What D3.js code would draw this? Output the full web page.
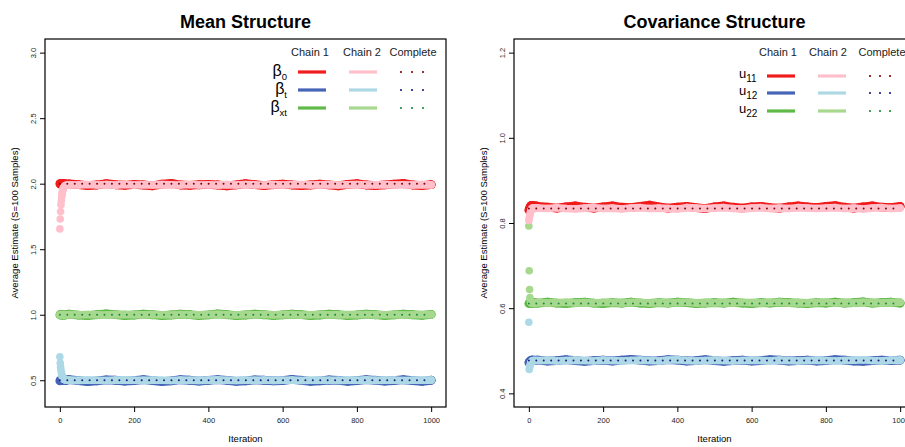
<!DOCTYPE html>
<html>
<head>
    <style>
        body { margin: 0; background: #fff; }
        text { font-family: "Liberation Sans", Arial, sans-serif; fill: #000; }
        .title { font-weight: bold; font-size: 18px; }
        .tick text { font-size: 7.5px; fill: #222; }
        .axis-label { font-size: 9.5px; }
        .legend-head { font-size: 11px; fill: #222; }
    </style>
    <script src="https://d3js.org/d3.v7.min.js"></script>
</head>
<body>
    <svg width="905" height="447"></svg>
    <script>
        // iterations that were plotted
        let iterBurn = [0, 1, 2, 3, 4, 5, 6, 7, 8, 9, 10, 12, 14, 17, 20];
        let iterMain = d3.range(25, 1001, 25);
        let xTicks = [0, 200, 400, 600, 800, 1000];

        // ---- Mean structure ----
        let meanTicks = [0.5, 1.0, 1.5, 2.0, 2.5, 3.0];
        let meanLabels = [["β", "0"], ["β", "t"], ["β", "xt"]];
        let meanComplete = [2.0, 0.5, 1.0];

        let b0Chain1Burn = [2.0, 1.998, 1.995, 1.997, 2.0, 2.003, 2.0, 1.997, 1.995, 1.998, 2.0, 2.002, 1.998, 1.995, 1.997];
        let b0Chain1 = [1.998, 1.993, 1.985, 1.99, 2.0, 1.992, 1.988, 1.995, 1.99, 1.984,
            1.996, 2.002, 1.99, 1.987, 1.992, 1.994, 1.99, 1.984, 1.991, 2.0,
            1.993, 1.986, 1.992, 1.997, 1.99, 1.985, 1.99, 1.996, 1.991, 1.984,
            1.995, 2.001, 1.99, 1.985, 1.991, 1.996, 2.002, 1.99, 1.986, 1.993];
        let b0Chain2Burn = [1.655, 1.73, 1.787, 1.84, 1.87, 1.9, 1.92, 1.94, 1.952, 1.962, 1.97, 1.978, 1.984, 1.988, 1.99];
        let b0Chain2 = [1.992, 1.99, 1.994, 1.99, 1.993, 1.989, 1.994, 1.99, 1.992, 1.99,
            1.993, 1.991, 1.99, 1.994, 1.99, 1.992, 1.989, 1.993, 1.99, 1.994,
            1.991, 1.99, 1.993, 1.99, 1.992, 1.994, 1.99, 1.991, 1.993, 1.99,
            1.992, 1.994, 1.99, 1.991, 1.993, 1.99, 1.992, 1.99, 1.993, 1.991];

        let btChain1Burn = [0.495, 0.5, 0.502, 0.5, 0.498, 0.5, 0.503, 0.5, 0.497, 0.5, 0.502, 0.5, 0.498, 0.5, 0.502];
        let btChain1 = [0.505, 0.497, 0.49, 0.495, 0.503, 0.5, 0.494, 0.497, 0.505, 0.498,
            0.49, 0.496, 0.504, 0.5, 0.493, 0.499, 0.505, 0.499, 0.491, 0.496,
            0.503, 0.5, 0.495, 0.498, 0.506, 0.5, 0.492, 0.496, 0.502, 0.499,
            0.491, 0.497, 0.505, 0.5, 0.493, 0.497, 0.504, 0.498, 0.492, 0.5];
        let btChain2Burn = [0.68, 0.632, 0.6, 0.578, 0.56, 0.546, 0.535, 0.526, 0.52, 0.515, 0.51, 0.506, 0.503, 0.501, 0.5];
        let btChain2 = [0.501, 0.499, 0.502, 0.5, 0.498, 0.501, 0.503, 0.5, 0.499, 0.501,
            0.5, 0.498, 0.502, 0.5, 0.499, 0.501, 0.503, 0.5, 0.498, 0.501,
            0.5, 0.502, 0.499, 0.5, 0.501, 0.498, 0.5, 0.502, 0.5, 0.499,
            0.501, 0.5, 0.503, 0.499, 0.5, 0.501, 0.498, 0.5, 0.502, 0.501];

        let bxtChain1Burn = [1.0, 0.998, 1.002, 1.0, 0.997, 1.0, 1.003, 1.0, 0.998, 1.0, 1.002, 1.0, 0.998, 1.0, 1.002];
        let bxtChain1 = [1.004, 0.997, 0.993, 1.0, 1.006, 1.001, 0.994, 0.998, 1.005, 1.0,
            0.993, 0.998, 1.004, 1.001, 0.994, 0.999, 1.006, 1.0, 0.993, 0.998,
            1.004, 1.0, 0.994, 0.999, 1.005, 1.001, 0.993, 0.998, 1.004, 1.0,
            0.994, 0.998, 1.005, 1.0, 0.993, 0.999, 1.004, 1.0, 0.995, 1.002];
        let bxtChain2Burn = [1.0, 1.001, 0.999, 1.0, 1.002, 1.0, 0.999, 1.001, 1.0, 0.999, 1.0, 1.001, 1.0, 0.999, 1.0];
        let bxtChain2 = [1.001, 0.999, 1.002, 1.0, 0.998, 1.001, 1.003, 1.0, 0.999, 1.001,
            1.0, 0.998, 1.002, 1.0, 0.999, 1.001, 1.003, 1.0, 0.998, 1.001,
            1.0, 1.002, 0.999, 1.0, 1.001, 0.998, 1.0, 1.002, 1.0, 0.999,
            1.001, 1.0, 1.002, 0.999, 1.0, 1.001, 0.998, 1.0, 1.002, 1.001];

        // ---- Covariance structure ----
        let covTicks = [0.4, 0.6, 0.8, 1.0, 1.2];
        let covLabels = [["u", "11"], ["u", "12"], ["u", "22"]];
        let covComplete = [0.834, 0.477, 0.611];

        let u11Chain1Burn = [0.83, 0.832, 0.835, 0.837, 0.838, 0.84, 0.841, 0.84, 0.839, 0.84, 0.841, 0.84, 0.839, 0.84, 0.84];
        let u11Chain1 = [0.839, 0.837, 0.835, 0.838, 0.84, 0.837, 0.835, 0.838, 0.84, 0.837,
            0.836, 0.839, 0.842, 0.838, 0.835, 0.837, 0.839, 0.836, 0.834, 0.838,
            0.84, 0.837, 0.835, 0.838, 0.839, 0.836, 0.835, 0.838, 0.84, 0.838,
            0.836, 0.839, 0.841, 0.837, 0.835, 0.838, 0.84, 0.837, 0.836, 0.839];
        let u11Chain2Burn = [0.806, 0.812, 0.816, 0.82, 0.824, 0.827, 0.83, 0.832, 0.833, 0.834, 0.835, 0.835, 0.835, 0.834, 0.835];
        let u11Chain2 = [0.835, 0.834, 0.836, 0.834, 0.833, 0.835, 0.836, 0.834, 0.835, 0.833,
            0.835, 0.836, 0.834, 0.835, 0.834, 0.833, 0.836, 0.835, 0.834, 0.835,
            0.836, 0.834, 0.833, 0.835, 0.836, 0.834, 0.835, 0.834, 0.836, 0.835,
            0.834, 0.835, 0.836, 0.834, 0.835, 0.833, 0.835, 0.836, 0.834, 0.835];

        let u12Chain1Burn = [0.472, 0.473, 0.474, 0.475, 0.476, 0.477, 0.477, 0.478, 0.477, 0.478, 0.478, 0.477, 0.478, 0.477, 0.478];
        let u12Chain1 = [0.478, 0.476, 0.477, 0.479, 0.477, 0.475, 0.477, 0.478, 0.476, 0.478,
            0.48, 0.478, 0.476, 0.477, 0.479, 0.478, 0.476, 0.477, 0.479, 0.477,
            0.475, 0.477, 0.478, 0.476, 0.477, 0.479, 0.478, 0.476, 0.477, 0.478,
            0.476, 0.477, 0.479, 0.478, 0.476, 0.475, 0.477, 0.478, 0.477, 0.478];
        let u12Chain2Burn = [0.567, 0.456, 0.461, 0.465, 0.468, 0.471, 0.473, 0.474, 0.475, 0.476, 0.476, 0.477, 0.477, 0.477, 0.477];
        let u12Chain2 = [0.477, 0.478, 0.476, 0.477, 0.478, 0.477, 0.476, 0.478, 0.477, 0.476,
            0.477, 0.478, 0.477, 0.476, 0.478, 0.479, 0.477, 0.476, 0.477, 0.478,
            0.477, 0.476, 0.477, 0.478, 0.477, 0.476, 0.478, 0.477, 0.476, 0.477,
            0.478, 0.477, 0.476, 0.477, 0.478, 0.479, 0.477, 0.476, 0.478, 0.478];

        let u22Chain1Burn = [0.611, 0.612, 0.612, 0.613, 0.612, 0.613, 0.612, 0.613, 0.612, 0.613, 0.612, 0.613, 0.612, 0.613, 0.612];
        let u22Chain1 = [0.612, 0.614, 0.612, 0.611, 0.613, 0.614, 0.612, 0.611, 0.613, 0.612,
            0.614, 0.612, 0.611, 0.613, 0.612, 0.614, 0.613, 0.611, 0.612, 0.613,
            0.612, 0.614, 0.612, 0.611, 0.613, 0.612, 0.614, 0.613, 0.612, 0.611,
            0.613, 0.612, 0.614, 0.612, 0.613, 0.615, 0.612, 0.613, 0.614, 0.612];
        let u22Chain2Burn = [0.793, 0.688, 0.644, 0.625, 0.618, 0.615, 0.613, 0.613, 0.612, 0.613, 0.612, 0.613, 0.612, 0.612, 0.613];
        let u22Chain2 = [0.613, 0.612, 0.613, 0.614, 0.612, 0.613, 0.612, 0.614, 0.613, 0.612,
            0.613, 0.614, 0.612, 0.613, 0.612, 0.613, 0.614, 0.612, 0.613, 0.612,
            0.613, 0.612, 0.614, 0.613, 0.612, 0.613, 0.614, 0.612, 0.613, 0.612,
            0.613, 0.614, 0.612, 0.613, 0.612, 0.614, 0.613, 0.612, 0.613, 0.614];

        let chain1Colors = ["#f01c1c", "#4664b8", "#5fba48"];
        let chain2Colors = ["#ffc0cb", "#add8e6", "#a6d98e"];
        let completeColors = ["#8b0000", "#1c1c80", "#1a8a40"];

        function toPoints(burn, main) {
            return iterBurn.map((it, i) => [it, burn[i]])
                .concat(iterMain.map((it, i) => [it, main[i]]));
        }

        let svg = d3.select("svg");
        let plotTop = 39, plotBottom = 407, plotW = 401;

        function drawPanel(p) {
            let x = d3.scaleLinear().domain([-40, 1040]).range([p.left, p.left + plotW]);
            let y = d3.scaleLinear().domain(p.yDomain).range([plotBottom, plotTop]);
            let g = svg.append("g");

            // chain traces: chain 1 first (wider), then chain 2 on top
            let line = d3.line().x(d => x(d[0])).y(d => y(d[1]));
            let drawChain = function(pts, color, r) {
                g.append("path")
                    .attr("d", line(pts.filter(d => d[0] >= 6)))
                    .attr("fill", "none")
                    .attr("stroke", color)
                    .attr("stroke-width", r * 2)
                    .attr("stroke-linecap", "round")
                    .attr("stroke-linejoin", "round");
                g.selectAll(null).data(pts).enter()
                    .append("circle")
                    .attr("cx", d => x(d[0]))
                    .attr("cy", d => y(d[1]))
                    .attr("r", r)
                    .attr("fill", color);
            };
            [2, 1, 0].forEach(i => drawChain(p.chain1[i], chain1Colors[i], 4.4));
            [2, 1, 0].forEach(i => drawChain(p.chain2[i], chain2Colors[i], 3.8));

            // complete-data reference, dotted
            p.complete.forEach((v, i) => {
                g.append("path")
                    .attr("d", line([[0, v], [1000, v]]))
                    .attr("stroke", completeColors[i])
                    .attr("stroke-width", 2)
                    .attr("stroke-linecap", "round")
                    .attr("stroke-dasharray", "0,7.44");
            });

            // box
            g.append("rect")
                .attr("x", p.left).attr("y", plotTop)
                .attr("width", plotW).attr("height", plotBottom - plotTop)
                .attr("fill", "none").attr("stroke", "#000").attr("stroke-width", 1.2);

            // axes
            let ax = g.append("g")
                .attr("transform", "translate(0," + plotBottom + ")")
                .call(d3.axisBottom(x).tickValues(xTicks).tickSize(5).tickPadding(6).tickFormat(d3.format("d")));
            ax.select(".domain").remove();

            let ay = g.append("g")
                .attr("transform", "translate(" + p.left + ",0)")
                .call(d3.axisLeft(y).tickValues(p.yTicks).tickSize(5).tickFormat(d3.format(".1f")));
            ay.select(".domain").remove();
            ay.selectAll(".tick text")
                .attr("x", null).attr("dy", null)
                .attr("text-anchor", "middle")
                .attr("transform", "translate(-9.5,0) rotate(-90)");

            // titles and axis labels
            let cx = p.left + plotW / 2;
            g.append("text").attr("class", "title")
                .attr("x", cx).attr("y", 28).attr("text-anchor", "middle").text(p.title);
            g.append("text").attr("class", "axis-label")
                .attr("x", cx).attr("y", 442).attr("text-anchor", "middle").text("Iteration");
            g.append("text").attr("class", "axis-label")
                .attr("transform", "translate(" + (p.left - 27.5) + "," + ((plotTop + plotBottom) / 2) + ") rotate(-90)")
                .attr("text-anchor", "middle")
                .text("Average Estimate (S=100 Samples)");

            // legend
            let lg = p.legend;
            ["Chain 1", "Chain 2", "Complete"].forEach((h, i) => {
                g.append("text").attr("class", "legend-head")
                    .attr("x", lg.heads[i]).attr("y", 56)
                    .attr("text-anchor", "middle").text(h);
            });
            p.labels.forEach((lab, i) => {
                let ry = lg.rows[i];
                g.append("line")
                    .attr("x1", lg.seg1[0]).attr("x2", lg.seg1[1])
                    .attr("y1", ry).attr("y2", ry)
                    .attr("stroke", chain1Colors[i]).attr("stroke-width", 3.2);
                g.append("line")
                    .attr("x1", lg.seg2[0]).attr("x2", lg.seg2[1])
                    .attr("y1", ry).attr("y2", ry)
                    .attr("stroke", chain2Colors[i]).attr("stroke-width", 3.2);
                g.append("line")
                    .attr("x1", lg.dots[0]).attr("x2", lg.dots[1] + 0.5)
                    .attr("y1", ry).attr("y2", ry)
                    .attr("stroke", completeColors[i]).attr("stroke-width", 2.2)
                    .attr("stroke-linecap", "round")
                    .attr("stroke-dasharray", "0," + ((lg.dots[1] - lg.dots[0]) / 2));
                let t = g.append("text")
                    .attr("x", lg.labelX).attr("y", ry + lg.baseOff)
                    .attr("text-anchor", lg.anchor);
                t.append("tspan").attr("font-size", lg.mainSize).text(lab[0]);
                t.append("tspan").attr("font-size", lg.subSize).attr("dy", lg.subDy).text(lab[1]);
            });
        }

        drawPanel({
            title: "Mean Structure",
            left: 45,
            yDomain: [0.296, 3.104],
            yTicks: meanTicks,
            labels: meanLabels,
            complete: meanComplete,
            chain1: [toPoints(b0Chain1Burn, b0Chain1), toPoints(btChain1Burn, btChain1), toPoints(bxtChain1Burn, bxtChain1)],
            chain2: [toPoints(b0Chain2Burn, b0Chain2), toPoints(btChain2Burn, btChain2), toPoints(bxtChain2Burn, bxtChain2)],
            legend: {
                heads: [310, 362, 413], rows: [72, 90, 108],
                seg1: [298, 326], seg2: [349, 377], dots: [401, 423],
                labelX: 287, anchor: "end", baseOff: 4, mainSize: "16px", subSize: "9.5px", subDy: 4
            }
        });

        drawPanel({
            title: "Covariance Structure",
            left: 514,
            yDomain: [0.368, 1.232],
            yTicks: covTicks,
            labels: covLabels,
            complete: covComplete,
            chain1: [toPoints(u11Chain1Burn, u11Chain1), toPoints(u12Chain1Burn, u12Chain1), toPoints(u22Chain1Burn, u22Chain1)],
            chain2: [toPoints(u11Chain2Burn, u11Chain2), toPoints(u12Chain2Burn, u12Chain2), toPoints(u22Chain2Burn, u22Chain2)],
            legend: {
                heads: [778, 828, 882], rows: [76, 93, 111],
                seg1: [767, 795], seg2: [818, 846], dots: [870, 890],
                labelX: 739, anchor: "start", baseOff: 2, mainSize: "13px", subSize: "10px", subDy: 4
            }
        });
    </script>
</body>
</html>
